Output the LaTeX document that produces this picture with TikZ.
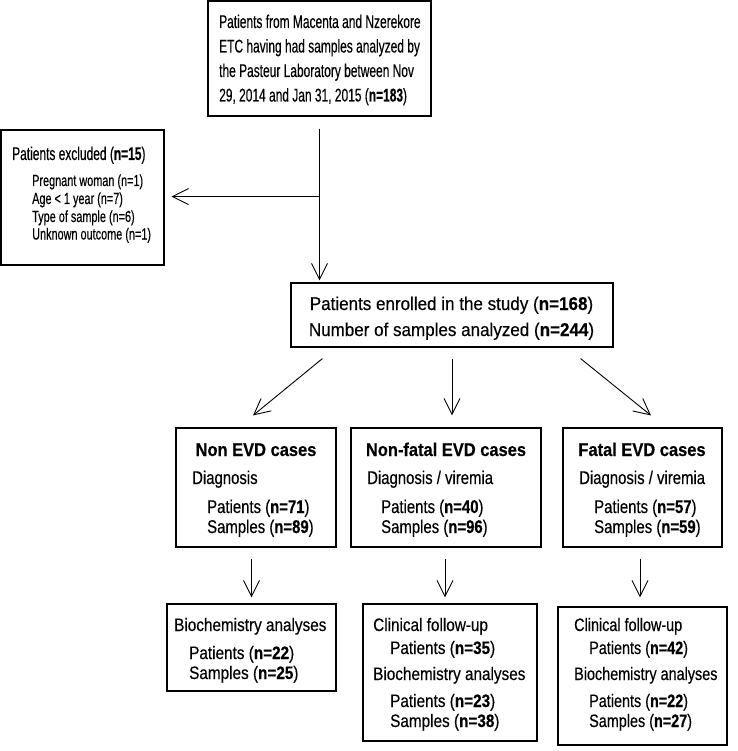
\documentclass[tikz,border=0pt]{standalone}
\usepackage{fontspec}
\setmainfont{Liberation Sans}
\newfontfamily\fT{Liberation Sans}[FakeStretch=0.65,FakeBold=0.35]
\newfontfamily\fE{Liberation Sans}[FakeStretch=0.68,FakeBold=0.35]
\newfontfamily\fN{Liberation Sans}[FakeStretch=0.92,FakeBold=0.35]
\newfontfamily\fM{Liberation Sans}[FakeStretch=0.81,FakeBold=0.35]
\newfontfamily\fMT{Liberation Sans}[FakeStretch=0.89,FakeBold=0.35]
\newfontfamily\fB{Liberation Sans}[FakeStretch=0.85,FakeBold=0.35]
\newfontfamily\fBB{Liberation Sans}[FakeStretch=0.80,FakeBold=0.35]
\usetikzlibrary{arrows.meta,calc}
\begin{document}
\begin{tikzpicture}[x=1pt,y=-1pt,
  box/.style={draw,line width=1.1pt,inner sep=0pt},
  arr/.style={line width=0.9pt,-{Straight Barb[length=16pt,width=16pt,line width=0.9pt]}},
  txt/.style={inner sep=0pt,anchor=base west},
  ctxt/.style={inner sep=0pt,anchor=base},
  ftop/.style={font=\fT\fontsize{18.4}{20}\selectfont},
  fexc/.style={font=\fE\fontsize{16}{18}\selectfont},
  fenr/.style={font=\fN\fontsize{18.5}{20}\selectfont},
  fmid/.style={font=\fM\fontsize{18.4}{20}\selectfont},
  fmidt/.style={font=\fMT\bfseries\fontsize{18.5}{20}\selectfont},
  fbot/.style={font=\fB\fontsize{18}{20}\selectfont},
  fbotr/.style={font=\fBB\fontsize{18}{20}\selectfont}]
\useasboundingbox (0,0) rectangle (737,751);

% boxes
\node[box,minimum width=223pt,minimum height=115pt] (top) at (319.5,58.5) {};
\node[box,minimum width=163pt,minimum height=135pt] (exc) at (82.5,197.5) {};
\node[box,minimum width=322pt,minimum height=64pt] (enr) at (452,315) {};
\node[box,minimum width=160pt,minimum height=119pt] (m1) at (256,487.5) {};
\node[box,minimum width=190pt,minimum height=119pt] (m2) at (446,487.5) {};
\node[box,minimum width=159pt,minimum height=119pt] (m3) at (642.5,487.5) {};
\node[box,minimum width=169pt,minimum height=87pt] (b1) at (251.5,647.5) {};
\node[box,minimum width=174pt,minimum height=137pt] (b2) at (450,672.5) {};
\node[box,minimum width=169pt,minimum height=138pt] (b3) at (642.5,676) {};

% top text
\node[txt,ftop] (t1) at (219,28) {Patients from Macenta and Nzerekore};
\node[txt,ftop] (t2) at (219,52.5) {ETC having had samples analyzed by};
\node[txt,ftop] (t3) at (219,77) {the Pasteur Laboratory between Nov};
\node[txt,ftop] (t4) at (219,101.5) {29, 2014 and Jan 31, 2015 (\textbf{n=183})};

% excluded
\node[txt,ftop] (e0) at (12,160) {Patients excluded (\textbf{n=15})};
\node[txt,fexc] (e1) at (32,186) {Pregnant woman (n=1)};
\node[txt,fexc] (e2) at (32,204) {Age < 1 year (n=7)};
\node[txt,fexc] (e3) at (32,222) {Type of sample (n=6)};
\node[txt,fexc] (e4) at (32,239.5) {Unknown outcome (n=1)};

% enrolled
\node[ctxt,fenr] (n1) at (451.5,310) {Patients enrolled in the study (\textbf{n=168})};
\node[ctxt,fenr] (n2) at (451.5,336) {Number of samples analyzed (\textbf{n=244})};

% middle row
\node[ctxt,fmidt] (m1a) at (256,456) {Non EVD cases};
\node[txt,fmid] (m1b) at (192,484) {Diagnosis};
\node[txt,fmid] (m1c) at (207,513) {Patients (\textbf{n=71})};
\node[txt,fmid] (m1d) at (207,533) {Samples (\textbf{n=89})};

\node[ctxt,fmidt] (m2a) at (446,456) {Non-fatal EVD cases};
\node[txt,fmid] (m2b) at (367,484) {Diagnosis / viremia};
\node[txt,fmid] (m2c) at (381,513) {Patients (\textbf{n=40})};
\node[txt,fmid] (m2d) at (381,533) {Samples (\textbf{n=96})};

\node[ctxt,fmidt] (m3a) at (642,456) {Fatal EVD cases};
\node[txt,fmid] (m3b) at (579,484) {Diagnosis / viremia};
\node[txt,fmid] (m3c) at (594,513) {Patients (\textbf{n=57})};
\node[txt,fmid] (m3d) at (594,533) {Samples (\textbf{n=59})};

% bottom row
\node[txt,fbot] (b1a) at (174,631) {Biochemistry analyses};
\node[txt,fbot] (b1b) at (189,659) {Patients (\textbf{n=22})};
\node[txt,fbot] (b1c) at (189,679) {Samples (\textbf{n=25})};

\node[txt,fbot] (b2a) at (373,631) {Clinical follow-up};
\node[txt,fbot] (b2b) at (390,654) {Patients (\textbf{n=35})};
\node[txt,fbot] (b2c) at (373,680) {Biochemistry analyses};
\node[txt,fbot] (b2d) at (390,707) {Patients (\textbf{n=23})};
\node[txt,fbot] (b2e) at (390,727) {Samples (\textbf{n=38})};

\node[txt,fbotr] (b3a) at (574,631) {Clinical follow-up};
\node[txt,fbotr] (b3b) at (589,654) {Patients (\textbf{n=42})};
\node[txt,fbotr] (b3c) at (574,680) {Biochemistry analyses};
\node[txt,fbotr] (b3d) at (589,707) {Patients (\textbf{n=22})};
\node[txt,fbotr] (b3e) at (589,727) {Samples (\textbf{n=27})};

% connectors
\draw[arr] ($(top.south)+(0,12)$) -- ($(top.south |- enr.north)+(0,-2)$);
\coordinate (split) at ($(top.south)+(0,80)$);
\draw[arr] (split) -- ($(split -| exc.east)+(7,0)$);
\draw[arr] ($(enr.south west)+(32,11)$) -- ($(m1.north)+(-3,-12)$);
\draw[arr] ($(enr.south)+(0,11)$) -- ($(enr.south |- m2.north)+(0,-12)$);
\draw[arr] ($(enr.south east)+(-33,11)$) -- ($(m3.north)+(8.5,-12)$);
\draw[arr] ($(b1.north |- m1.south)+(0,11)$) -- ($(b1.north)+(0,-6)$);
\draw[arr] ($(m2.south)+(-1,11)$) -- ($(m2.south |- b2.north)+(-1,-6)$);
\draw[arr] ($(m3.south)+(-2.5,11)$) -- ($(m3.south |- b3.north)+(-2.5,-9)$);
\end{tikzpicture}
\end{document}
